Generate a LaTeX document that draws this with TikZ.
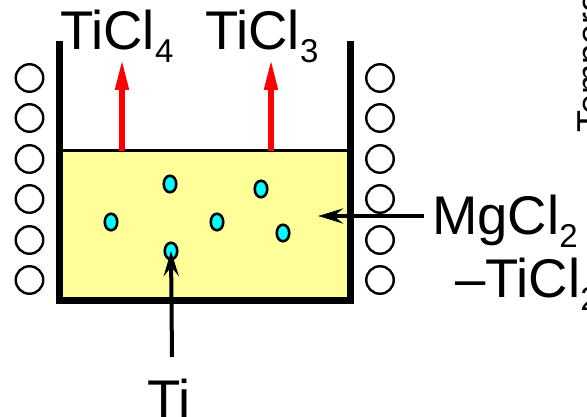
\documentclass[tikz,border=0pt]{standalone}
\usepackage{fontspec}
\setmainfont{Liberation Sans}
\usetikzlibrary{arrows.meta,shapes.geometric}
\definecolor{liq}{RGB}{255,255,153}
\definecolor{grainc}{RGB}{0,255,255}
\definecolor{redc}{RGB}{255,0,0}
\newcommand{\subnum}[1]{\raisebox{-13pt}{\fontsize{33}{33}\selectfont #1}}
\tikzset{
  x=1pt,y=-1pt,
  coil/.style={circle,draw=black,line width=2.4pt,fill=white,minimum size=27.5pt,inner sep=0pt},
  grain/.style={ellipse,draw=black,line width=2.6pt,fill=grainc,minimum width=12.5pt,minimum height=16.5pt,inner sep=0pt},
  wall/.style={line width=7.4pt,line cap=butt,line join=miter},
  lbl/.style={inner sep=0pt,font=\fontsize{54.5}{54.5}\selectfont,anchor=base west},
  redarrow/.style={draw=redc,line width=6pt,-{Triangle[length=32pt,width=12.5pt,fill=redc]}},
  blackarrow/.style={draw=black,line width=4pt,-{Stealth[length=25pt,width=15pt,inset=9pt]}}
}
\begin{document}
\begin{tikzpicture}
\useasboundingbox (0,0) rectangle (587,417);
\clip (0,0) rectangle (587,417);
\fill[fill=liq] (60,150) rectangle (351,299);
\draw[line width=2.8pt] (60,150.3) -- (351,150.3);
\draw[wall] (59.7,41) -- (59.7,300.5) -- (350.5,300.5) -- (350.5,41);
\foreach \i/\y in {1/78,2/118,3/159,4/199,5/240,6/280}{
  \node[coil] (l\i) at (29.5,\y) {};
  \node[coil] (r\i) at (380,\y) {};
}
\node[grain] (g1) at (111,222) {};
\node[grain] (g2) at (170,184) {};
\node[grain] (g3) at (171,251) {};
\node[grain] (g4) at (217,222) {};
\node[grain] (g5) at (261,189) {};
\node[grain] (g6) at (283,233) {};
\coordinate (s1) at (122,151);
\coordinate (e1) at (122,58);
\coordinate (s2) at (271,151);
\coordinate (e2) at (271,58);
\draw[redarrow] (s1) -- (e1);
\draw[redarrow] (s2) -- (e2);
\node[lbl] (t4) at (60,50) {TiCl\subnum{4}};
\node[lbl] (t3) at (205,50) {TiCl\subnum{3}};
\node[lbl] (mg) at (432,235) {MgCl\subnum{2}};
\node[lbl] (ti2) at (455,298) {–TiCl\subnum{2}};
\node[lbl] (ti) at (147,418) {Ti};
\coordinate (ta) at (172,357);
\draw[blackarrow] (ta) -- (g3.center);
\coordinate (ma) at (424,216);
\coordinate (mb) at (318,216);
\draw[blackarrow] (ma) -- (mb);
\node[rotate=90,anchor=base west,inner sep=0pt,font=\fontsize{36}{36}\selectfont] (temp) at (602,133) {Temperature};
\end{tikzpicture}
\end{document}
